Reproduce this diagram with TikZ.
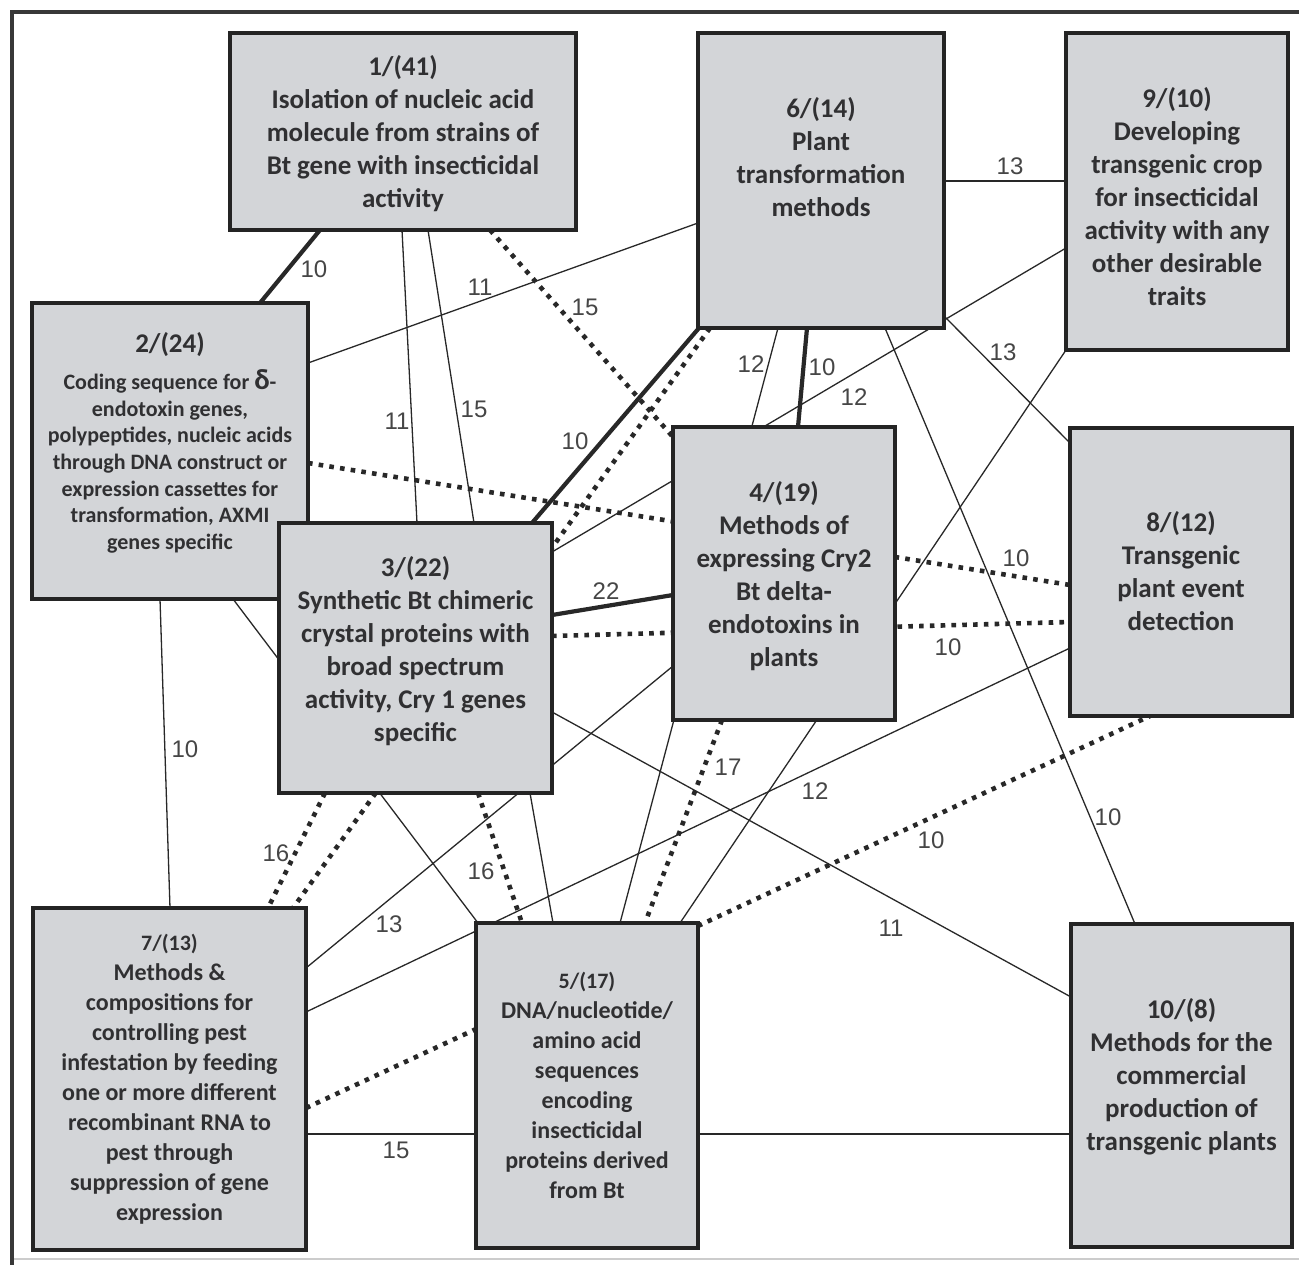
\documentclass[tikz,border=0pt]{standalone}
\usepackage{fontspec}
\setmainfont{Carlito}
\newfontfamily\lblfont{Liberation Sans}
\usetikzlibrary{calc}
\definecolor{boxfill}{RGB}{211,213,216}
\definecolor{boxline}{RGB}{36,36,36}
\definecolor{txtcol}{RGB}{48,48,50}
\definecolor{lncol}{RGB}{40,40,40}
\definecolor{lblcol}{RGB}{70,70,70}
\pgfdeclarelayer{background}
\pgfsetlayers{background,main}
\tikzset{
  box/.style={rectangle, draw=boxline, line width=3.8pt, fill=boxfill, inner sep=0pt, outer sep=0pt},
  boxtxt/.style={text=txtcol, align=flush center, text width=330pt, inner sep=0pt, font=\bfseries\fontsize{27}{33}\selectfont},
  thinln/.style={draw=lncol, line width=1.3pt},
  thickln/.style={draw=lncol, line width=4.2pt},
  dotln/.style={draw=lncol, line width=4.6pt, dash pattern=on 4.6pt off 6.2pt},
  lbl/.style={text=lblcol, inner sep=0pt, font=\lblfont\fontsize{24}{24}\selectfont},
}
\begin{document}
\begin{tikzpicture}[x=1pt,y=-1pt]
\useasboundingbox (0,0) rectangle (1299,1265);
% boxes
\node[box, minimum width=346pt, minimum height=197pt] (b1) at (403,131.5) {};
\node[box, minimum width=276pt, minimum height=296pt] (b2) at (170,451) {};
\node[box, minimum width=273pt, minimum height=270pt] (b3) at (415.5,658) {};
\node[box, minimum width=222pt, minimum height=293pt] (b4) at (784,573.5) {};
\node[box, minimum width=222pt, minimum height=325pt] (b5) at (587,1085.5) {};
\node[box, minimum width=246pt, minimum height=295pt] (b6) at (821,180.5) {};
\node[box, minimum width=273pt, minimum height=342pt] (b7) at (169.5,1079) {};
\node[box, minimum width=222pt, minimum height=288pt] (b8) at (1181,572) {};
\node[box, minimum width=222pt, minimum height=317pt] (b9) at (1177,191.5) {};
\node[box, minimum width=221pt, minimum height=323pt] (b10) at (1181.5,1085.5) {};
% box texts
\node[boxtxt] (t1) at (403,133.5) {1/(41)\\Isolation of nucleic acid\\molecule from strains of\\Bt gene with insecticidal\\activity\par};
\node[boxtxt] (t2) at (170,443) {2/(24)\\[10pt]\fontsize{22}{26.7}\selectfont Coding sequence for {\fontsize{29}{26.7}\selectfont δ}-\\endotoxin genes,\\polypeptides, nucleic acids\\through DNA construct or\\expression cassettes for\\transformation, AXMI\\genes specific\par};
\node[boxtxt] (t3) at (415.5,651.5) {3/(22)\\Synthetic Bt chimeric\\crystal proteins with\\broad spectrum\\activity, Cry 1 genes\\specific\par};
\node[boxtxt] (t4) at (784,576) {4/(19)\\Methods of\\expressing Cry2\\Bt delta-\\endotoxins in\\plants\par};
\node[boxtxt] (t5) at (587,1085) {{\fontsize{22}{30}\selectfont 5/(17)}\\\fontsize{24}{30}\selectfont DNA/nucleotide/\\amino acid\\sequences\\encoding\\insecticidal\\proteins derived\\from Bt\par};
\node[boxtxt] (t6) at (821,157) {6/(14)\\Plant\\transformation\\methods\par};
\node[boxtxt] (t7) at (169.5,1079) {{\fontsize{22}{30}\selectfont 7/(13)}\\\fontsize{24}{30}\selectfont Methods \&\\compositions for\\controlling pest\\infestation by feeding\\one or more different\\recombinant RNA to\\pest through\\suppression of gene\\expression\par};
\node[boxtxt] (t8) at (1181,571) {8/(12)\\Transgenic\\plant event\\detection\par};
\node[boxtxt] (t9) at (1177,197) {9/(10)\\Developing\\transgenic crop\\for insecticidal\\activity with any\\other desirable\\traits\par};
\node[boxtxt] (t10) at (1181.5,1076.5) {10/(8)\\Methods for the\\commercial\\production of\\transgenic plants\par};
% edge labels
\node[lbl] (l1) at (314,269) {10};
\node[lbl] (l2) at (397,421) {11};
\node[lbl] (l3) at (474,409) {15};
\node[lbl] (l4) at (585,307) {15};
\node[lbl] (l5) at (480,287) {11};
\node[lbl] (l6) at (1016,558) {10};
\node[lbl] (l8) at (185,749) {10};
\node[lbl] (l9) at (575,441) {10};
\node[lbl] (l11) at (854,397) {12};
\node[lbl] (l12) at (606,591) {22};
\node[lbl] (l13) at (948,647) {10};
\node[lbl] (l14) at (389,924) {13};
\node[lbl] (l15) at (891,928) {11};
\node[lbl] (l16) at (276,853) {16};
\node[lbl] (l18) at (481,871) {16};
\node[lbl] (l19) at (751,364) {12};
\node[lbl] (l20) at (822,367) {10};
\node[lbl] (l21) at (1108,817) {10};
\node[lbl] (l22) at (1003,352) {13};
\node[lbl] (l23) at (1010,166) {13};
\node[lbl] (l25) at (728,767) {17};
\node[lbl] (l26) at (815,791) {12};
\node[lbl] (l27) at (931,840) {10};
\node[lbl] (l30) at (396,1150) {15};
\begin{pgfonlayer}{background}
\fill[white] (0,0) rectangle (1299,1265);
\draw[line width=2pt, draw=black!20] (10,1259) -- (1299,1259);
\draw[line width=4pt, draw=black!78] (11.5,1265) -- (11.5,12) -- (1299,12);
% connectors
\draw[thickln] ([xshift=90pt]b1.south west) -- ([xshift=228pt]b2.north west);
\draw[thinln] ([xshift=172pt]b1.south west) -- ([xshift=138pt]b3.north west);
\draw[thinln] ([xshift=198pt]b1.south west) -- ([xshift=195pt]b3.north west);
\draw[thinln] ([xshift=251pt]b3.south west) -- ([xshift=77pt]b5.north west);
\draw[dotln] ([xshift=260pt]b1.south west) -- ([yshift=-10pt]b4.north west);
\draw[thinln] ([yshift=-60pt]b2.north east) -- ([yshift=-190pt]b6.north west);
\draw[dotln] ([yshift=-160pt]b2.north east) -- ([yshift=-157pt]b8.north west);
\draw[thinln] ([xshift=201pt]b2.south west) -- ([xshift=2pt]b5.north west);
\draw[thinln] ([xshift=128pt]b2.south west) -- ([xshift=137pt]b7.north west);
\draw[thickln] ([xshift=253pt]b3.north west) -- ([xshift=1pt]b6.south west);
\draw[dotln] ([xshift=12pt]b6.south west) -- ([xshift=260pt]b7.north west);
\draw[thinln] ([yshift=-29pt]b3.north east) -- ([yshift=-215pt]b9.north west);
\draw[thickln] ([yshift=-92pt]b3.north east) -- ([yshift=-168pt]b4.north west);
\draw[dotln] ([yshift=-113pt]b3.north east) -- ([yshift=-194pt]b8.north west);
\draw[thinln] ([yshift=-60pt]b7.north east) -- ([yshift=-239pt]b4.north west);
\draw[thinln] ([yshift=-189pt]b3.north east) -- ([yshift=-73pt]b10.north west);
\draw[dotln] ([xshift=46pt]b3.south west) -- ([xshift=235pt]b7.north west);
\draw[dotln] ([xshift=199pt]b3.south west) -- ([xshift=46pt]b5.north west);
\draw[thinln] ([xshift=80pt]b6.south west) -- ([xshift=144pt]b5.north west);
\draw[thickln] ([xshift=109pt]b6.south west) -- ([xshift=125pt]b4.north west);
\draw[thinln] ([xshift=187pt]b6.south west) -- ([xshift=64pt]b10.north west);
\draw[thinln] ([yshift=-283pt]b6.north east) -- ([yshift=-15pt]b8.north west);
\draw[thinln] ([yshift=-148pt]b6.north east) -- ([yshift=-148pt]b9.north west);
\draw[thinln] (b9.south west) -- ([xshift=204pt]b5.north west);
\draw[dotln] ([xshift=49pt]b4.south west) -- ([xshift=169pt]b5.north west);
\draw[thinln] ([yshift=-220pt]b8.north west) -- ([yshift=-104pt]b7.north east);
\draw[dotln] ([yshift=-200pt]b7.north east) -- ([xshift=80pt]b8.south west);
\draw[thinln] ([yshift=-226pt]b7.north east) -- ([yshift=-210pt]b10.north west);
\end{pgfonlayer}
\end{tikzpicture}
\end{document}
